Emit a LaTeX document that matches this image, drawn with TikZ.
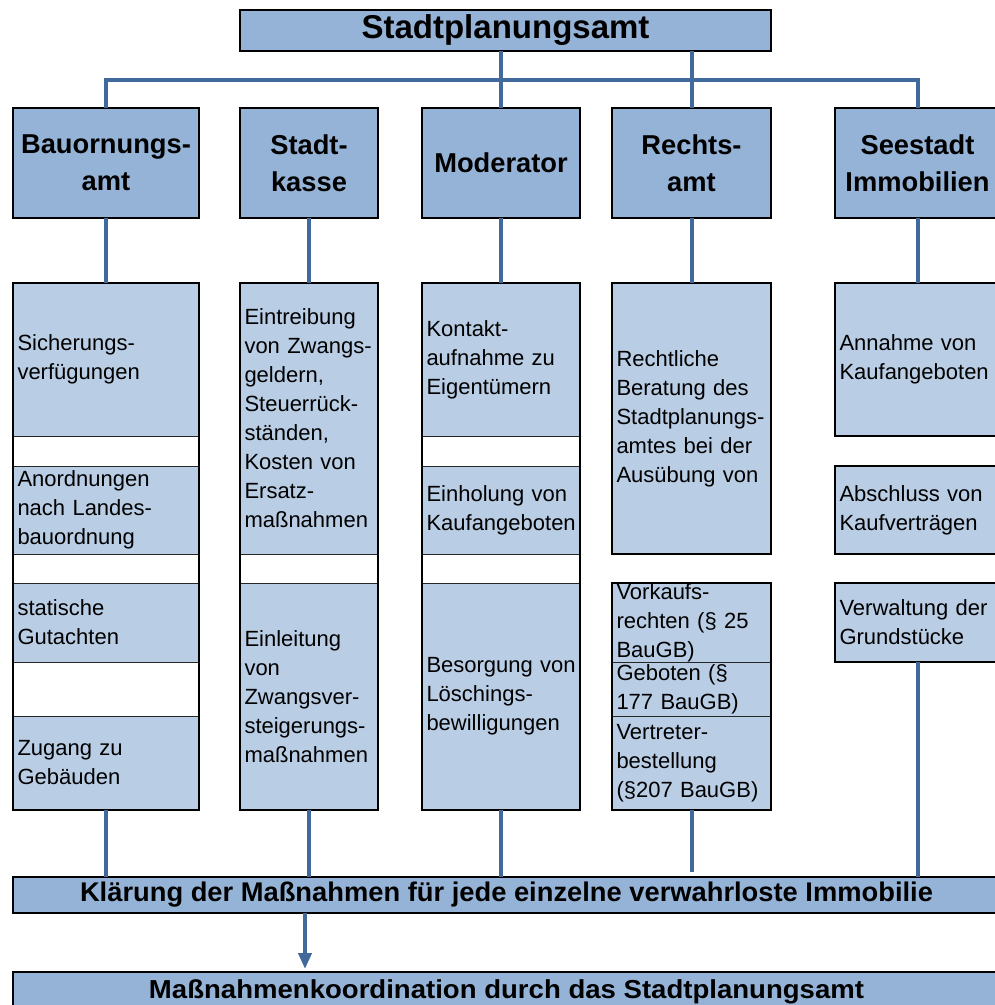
\documentclass[tikz,border=0pt]{standalone}
\usepackage{fontspec}
\setmainfont{Liberation Sans}
\usepackage{graphicx}
\usetikzlibrary{arrows.meta}
\definecolor{hdrblue}{HTML}{95B3D7}
\definecolor{subblue}{HTML}{B9CDE5}
\definecolor{linkblue}{HTML}{41699C}
\begin{document}
\begin{tikzpicture}[x=1pt,y=-1pt,
  box/.style={draw=black, line width=1.6pt, inner sep=0pt, outer sep=0pt},
  hdr/.style={box, fill=hdrblue, align=center, font=\fontsize{27.3}{37}\selectfont\bfseries},
  sub/.style={draw=black!85, line width=0.8pt, fill=subblue, inner xsep=4.5pt, inner ysep=0pt, outer sep=0pt, align=left, font=\fontsize{22}{29}\selectfont},
  thick sub/.style={sub, draw=black, line width=1.6pt},
  frame/.style={draw=black, line width=1.6pt, inner sep=0pt, outer sep=0pt},
  wa/.style={text width=177pt}, wb/.style={text width=129pt}, wc/.style={text width=149pt},
  wd/.style={text width=150pt}, we/.style={text width=156pt},
  link/.style={draw=linkblue, line width=4pt},
  band/.style={box, fill=hdrblue, font=\fontsize{27}{27}\selectfont\bfseries},
]
\clip (0,0) rectangle (995,1005);
\fill[white] (0,0) rectangle (995,1005);

% top
\node[box, fill=hdrblue, minimum width=531pt, minimum height=41pt, font=\fontsize{33}{33}\selectfont\bfseries] (tb) at (505.5,30.5) {Stadtplanungsamt};

% headers
\node[hdr, minimum width=186pt, minimum height=110pt] (h1) at (106,163) {Bauornungs-\\amt};
\node[hdr, minimum width=138pt, minimum height=110pt] (h2) at (309,163) {Stadt-\\kasse};
\node[hdr, minimum width=158pt, minimum height=110pt] (h3) at (501,163) {Moderator};
\node[hdr, minimum width=159pt, minimum height=110pt] (h4) at (691.5,163) {Rechts-\\amt};
\node[hdr, minimum width=165pt, minimum height=110pt] (h5) at (917.5,163) {Seestadt\\Immobilien};

% column frames (white background)
\node[frame, fill=white, minimum width=186pt, minimum height=527pt] (c1) at (106,546.5) {};
\node[frame, fill=white, minimum width=138pt, minimum height=527pt] (c2) at (309,546.5) {};
\node[frame, fill=white, minimum width=158pt, minimum height=527pt] (c3) at (501,546.5) {};

% column 1
\node[sub, wa, minimum height=153pt] (a1) at (106,359.5) {Sicherungs-\\verfügungen};
\node[sub, wa, minimum height=88pt] (a2) at (106,510) {Anordnungen\\nach~Landes-\\bauordnung};
\node[sub, wa, minimum height=79pt] (a3) at (106,622.5) {statische\\Gutachten};
\node[sub, wa, minimum height=94pt] (a4) at (106,763) {Zugang~zu\\Gebäuden};

% column 2
\node[sub, wb, minimum height=271pt] (b1) at (309,418.5) {Eintreibung\\von~Zwangs-\\geldern,\\Steuerrück-\\ständen,\\Kosten~von\\Ersatz-\\maßnahmen};
\node[sub, wb, minimum height=227pt] (b2) at (309,696.5) {Einleitung\\von\\Zwangsver-\\steigerungs-\\maßnahmen};

% column 3
\node[sub, wc, minimum height=153pt] (m1) at (501,359.5) {Kontakt-\\aufnahme~zu\\Eigentümern};
\node[sub, wc, minimum height=88pt] (m2) at (501,510) {Einholung~von\\Kaufangeboten};
\node[sub, wc, minimum height=227pt] (m3) at (501,696.5) {Besorgung~von\\Löschings-\\bewilligungen};

% redraw frames on top
\node[frame, minimum width=186pt, minimum height=527pt] at (c1) {};
\node[frame, minimum width=138pt, minimum height=527pt] at (c2) {};
\node[frame, minimum width=158pt, minimum height=527pt] at (c3) {};

% column 4
\node[thick sub, wd, minimum height=271pt] (r1) at (691.5,418.5) {Rechtliche\\Beratung~des\\Stadtplanungs-\\amtes~bei~der\\Ausübung~von};
\node[sub, wd, minimum height=79pt] (r2) at (691.5,622.5) {Vorkaufs-\\rechten~(§~25\\BauGB)};
\node[sub, wd, minimum height=54pt] (r3) at (691.5,689) {Geboten~(§\\177~BauGB)};
\node[sub, wd, minimum height=94pt] (r4) at (691.5,763) {Vertreter-\\bestellung\\(§207~BauGB)};
\node[frame, minimum width=159pt, minimum height=227pt] (c4) at (691.5,696.5) {};

% column 5
\node[thick sub, we, minimum height=153pt] (e1) at (917.5,359.5) {Annahme~von\\Kaufangeboten};
\node[thick sub, we, minimum height=88pt] (e2) at (917.5,510) {Abschluss~von\\Kaufverträgen};
\node[thick sub, we, minimum height=79pt] (e3) at (917.5,622.5) {Verwaltung~der\\Grundstücke};

% bands
\node[band, minimum width=987pt, minimum height=36pt] (kl) at (506.5,895) {\resizebox{853pt}{\height}{Klärung der Maßnahmen für jede einzelne verwahrloste Immobilie}};
\node[band, minimum width=987pt, minimum height=40pt, font=\fontsize{26}{26}\selectfont\bfseries] (bot) at (506.5,992) {\resizebox{715pt}{\height}{Maßnahmenkoordination durch das Stadtplanungsamt}};

% connectors top
\coordinate (bus) at (0,80);
\draw[link] (h1.north) -- (h1.north |- bus) -- (h5.north |- bus) -- (h5.north);
\draw[link] (tb.south -| h3.north) -- (h3.north);
\draw[link] (tb.south -| h4.north) -- (h4.north);

% headers to columns
\draw[link] (h1.south) -- (c1.north);
\draw[link] (h2.south) -- (c2.north);
\draw[link] (h3.south) -- (c3.north);
\draw[link] (h4.south) -- (r1.north);
\draw[link] (h5.south) -- (e1.north);

% columns to band
\draw[link] (c1.south) -- (c1.south |- kl.north);
\draw[link] (c2.south) -- (c2.south |- kl.north);
\draw[link] (c3.south) -- (c3.south |- kl.north);
\draw[link, shorten >=5pt] (c4.south) -- (c4.south |- kl.north);
\draw[link] (e3.south) -- (e3.south |- kl.north);

% arrow
\draw[link, -{Triangle[length=16pt,width=13pt]}, shorten >=3pt] ([xshift=-4pt]kl.south -| c2.south) -- ([xshift=-4pt]bot.north -| c2.south);
\end{tikzpicture}
\end{document}
